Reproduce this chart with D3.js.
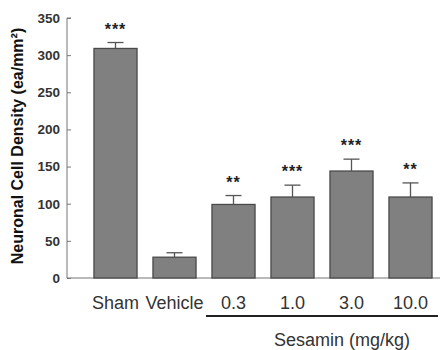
<!DOCTYPE html>
<html><head><meta charset="utf-8">
<script src="https://cdn.jsdelivr.net/npm/d3@7"></script>
<style>body{margin:0;background:#fff}svg{display:block}</style>
</head><body><svg id="c" width="441" height="350"></svg>
<script>
const categories = ["Sham","Vehicle","0.3","1.0","3.0","10.0"];
const values = [309, 28, 99, 109, 144, 109];
const errors = [8, 6, 12, 16, 16, 19];
const stars = ["***", "", "**", "***", "***", "**"];
const yTicks = [0, 50, 100, 150, 200, 250, 300, 350];
const yLabel = "Neuronal Cell Density (ea/mm²)";
const groupLabel = "Sesamin (mg/kg)";

const svg = d3.select("#c");
const x = d3.scaleBand().domain(categories).range([86, 440]).paddingInner(0.27).paddingOuter(0.135);
const y = d3.scaleLinear().domain([0, 350]).range([278, 18]);
const font = "Arial, 'Liberation Sans', sans-serif";

// y axis
const ya = svg.append("g").attr("transform", "translate(67,0)")
  .call(d3.axisRight(y).tickValues(yTicks).tickSize(4).tickFormat(d3.format("d")));
ya.select(".domain").attr("stroke", "#777").attr("d", `M4,${y(350)}H0V${y(0)}`);
ya.selectAll(".tick line").attr("stroke", "#777");
ya.selectAll(".tick text").attr("x", -7).attr("text-anchor", "end")
  .attr("font-family", font).attr("font-weight", "bold").attr("font-size", 13.5).attr("fill", "#333");

// x axis baseline
svg.append("line").attr("x1", 67).attr("x2", 440).attr("y1", y(0)).attr("y2", y(0))
  .attr("stroke", "#777").attr("stroke-width", 1.2);

// bars
svg.selectAll("rect.bar").data(categories).join("rect").attr("class", "bar")
  .attr("x", d => x(d)).attr("width", x.bandwidth())
  .attr("y", (d, i) => y(values[i])).attr("height", (d, i) => y(0) - y(values[i]))
  .attr("fill", "#808080").attr("stroke", "#4a4a4a").attr("stroke-width", 1.3);

// error bars
const cap = 8;
categories.forEach((c, i) => {
  const cx = x(c) + x.bandwidth() / 2;
  svg.append("line").attr("x1", cx).attr("x2", cx).attr("y1", y(values[i])).attr("y2", y(values[i] + errors[i]))
    .attr("stroke", "#555").attr("stroke-width", 1.3);
  svg.append("line").attr("x1", cx - cap).attr("x2", cx + cap).attr("y1", y(values[i] + errors[i])).attr("y2", y(values[i] + errors[i]))
    .attr("stroke", "#555").attr("stroke-width", 1.3);
  if (stars[i]) {
    svg.append("text").attr("x", cx).attr("y", y(values[i] + errors[i]) - 8)
      .attr("text-anchor", "middle").attr("font-family", font).attr("font-weight", "bold")
      .attr("font-size", 16).attr("letter-spacing", 1).attr("fill", "#222").text(stars[i]);
  }
});

// x labels
svg.selectAll("text.xl").data(categories).join("text").attr("class", "xl")
  .attr("x", d => x(d) + x.bandwidth() / 2).attr("y", 309)
  .attr("text-anchor", "middle").attr("font-family", font).attr("font-size", 18)
  .attr("fill", "#333").text(d => d);

// group underline
svg.append("line").attr("x1", x("0.3") - 6).attr("x2", 438).attr("y1", 316).attr("y2", 316)
  .attr("stroke", "#222").attr("stroke-width", 2);
svg.append("text").attr("x", 342).attr("y", 346)
  .attr("text-anchor", "middle").attr("font-family", font).attr("font-size", 18)
  .attr("fill", "#333").text(groupLabel);

// y label
svg.append("text").attr("transform", `translate(23,146) rotate(-90)`)
  .attr("text-anchor", "middle").attr("font-family", font).attr("font-weight", "bold")
  .attr("font-size", 16).attr("fill", "#111").text(yLabel);
</script></body></html>
